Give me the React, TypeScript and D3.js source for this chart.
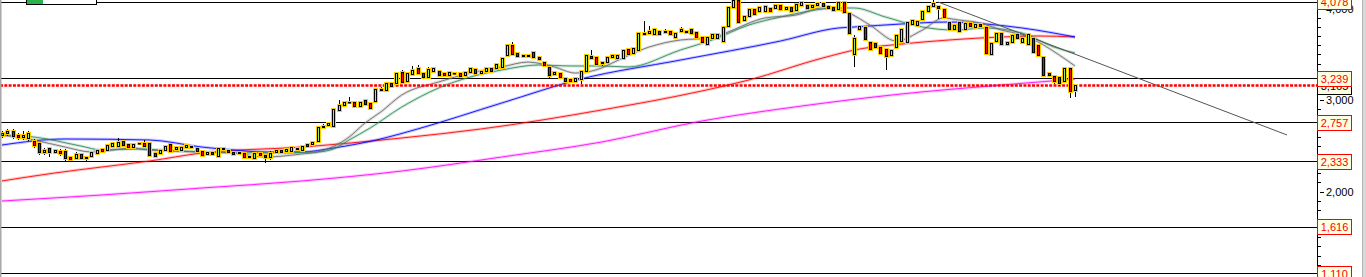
import React, { useEffect, useRef } from 'react';
import * as d3 from 'd3';

// ---- candle data ----
const opens = [2608,2629,2662,2618,2586,2575,2553,2531,2422,2476,2422,2444,2444,2378,2356,2411,2356,2378,2411,2465,2444,2487,2487,2553,2520,2476,2520,2531,2531,2422,2411,2444,2520,2454,2444,2476,2498,2476,2444,2400,2433,2378,2476,2454,2433,2411,2422,2389,2356,2422,2400,2367,2422,2454,2433,2433,2454,2444,2520,2509,2542,2695,2717,2706,2881,2935,2979,2979,2924,3001,2968,2979,3099,3099,3187,3176,3307,3198,3274,3351,3296,3241,3307,3318,3296,3263,3296,3296,3263,3296,3340,3285,3307,3351,3340,3351,3482,3602,3515,3493,3471,3526,3471,3416,3362,3274,3296,3241,3230,3198,3220,3307,3482,3471,3394,3405,3460,3449,3449,3558,3504,3537,3733,3722,3711,3755,3733,3755,3679,3744,3755,3777,3744,3690,3602,3668,3668,3635,3799,4007,4090,3864,3908,3996,3963,3963,4007,3996,4039,3985,4017,3974,4028,4039,4007,4028,4061,4028,4017,3985,4072,3952,3493,3766,3799,3635,3624,3580,3558,3482,3569,3635,3624,3821,3810,3875,3963,4017,4028,3996,3854,3766,3854,3766,3843,3788,3832,3799,3493,3635,3733,3602,3624,3722,3624,3602,3679,3602,3471,3296,3263,3252,3198,3351,3099];
const highs = [2662,2684,2684,2640,2662,2662,2575,2542,2476,2487,2465,2465,2465,2389,2433,2422,2389,2444,2465,2476,2520,2542,2586,2564,2531,2531,2542,2564,2542,2433,2465,2509,2531,2498,2498,2520,2509,2487,2454,2444,2444,2487,2487,2465,2444,2444,2433,2400,2433,2433,2411,2444,2465,2465,2476,2498,2487,2509,2531,2553,2717,2739,2760,2914,3001,2990,3034,2990,2990,3012,2979,3132,3143,3198,3198,3307,3329,3307,3373,3384,3307,3362,3362,3329,3307,3318,3307,3307,3318,3362,3351,3329,3362,3362,3405,3471,3613,3635,3526,3504,3504,3537,3482,3427,3373,3318,3307,3252,3241,3252,3329,3504,3548,3482,3427,3482,3504,3504,3558,3569,3580,3744,3864,3810,3788,3766,3777,3766,3744,3799,3766,3788,3755,3701,3701,3733,3733,3810,4028,4110,4110,3930,4007,4007,4028,4039,4017,4050,4050,4028,4028,4061,4083,4050,4050,4072,4072,4039,4028,4083,4083,3963,3711,3821,3810,3646,3635,3591,3569,3558,3722,3788,3864,3886,3875,3985,4039,4094,4039,4007,3864,3832,3864,3854,3854,3843,3843,3810,3635,3744,3744,3646,3722,3733,3690,3733,3690,3613,3482,3307,3274,3263,3362,3362,3176];
const lows = [2586,2608,2575,2564,2564,2553,2476,2400,2400,2378,2411,2389,2334,2323,2345,2345,2334,2367,2400,2422,2433,2476,2476,2487,2465,2465,2509,2476,2378,2367,2400,2433,2422,2444,2433,2465,2465,2422,2378,2389,2389,2367,2444,2411,2389,2400,2356,2356,2345,2378,2312,2345,2411,2411,2422,2422,2444,2433,2476,2498,2531,2684,2706,2695,2870,2924,2957,2914,2914,2935,2892,2968,3088,3088,3132,3165,3176,3187,3263,3274,3230,3230,3296,3252,3252,3252,3274,3241,3252,3285,3274,3274,3296,3296,3329,3340,3471,3482,3460,3460,3460,3449,3427,3362,3241,3263,3230,3187,3187,3187,3176,3296,3438,3373,3373,3394,3449,3438,3438,3482,3493,3526,3701,3711,3701,3701,3722,3701,3668,3733,3722,3711,3668,3613,3591,3657,3657,3624,3788,3996,3832,3854,3897,3919,3952,3952,3952,3985,3974,3974,3952,3963,4017,3985,3996,4017,4007,3985,3963,3974,3941,3711,3362,3755,3646,3537,3558,3493,3329,3471,3558,3624,3613,3810,3799,3864,3952,4007,3886,3886,3755,3755,3733,3755,3788,3777,3788,3493,3482,3624,3591,3591,3613,3657,3613,3591,3504,3471,3252,3252,3176,3154,3187,3023,3034];
const closes = [2640,2662,2597,2586,2618,2640,2498,2422,2454,2422,2454,2411,2356,2345,2411,2356,2378,2433,2454,2433,2509,2531,2542,2498,2476,2520,2531,2487,2389,2378,2454,2498,2433,2487,2487,2509,2476,2433,2389,2433,2400,2476,2454,2422,2400,2433,2367,2367,2422,2389,2367,2422,2454,2422,2465,2487,2476,2498,2487,2542,2706,2717,2749,2903,2946,2979,2968,2924,2979,2946,2903,3121,3121,3187,3143,3296,3187,3296,3329,3285,3241,3340,3351,3263,3263,3307,3285,3252,3307,3351,3285,3318,3351,3307,3394,3460,3602,3493,3471,3471,3493,3460,3438,3373,3263,3307,3241,3198,3198,3241,3318,3493,3449,3384,3416,3471,3493,3493,3548,3493,3569,3733,3711,3755,3777,3711,3755,3711,3733,3777,3733,3722,3679,3624,3690,3722,3722,3799,4017,4090,3843,3919,3996,3930,4017,4028,3963,4039,3985,4017,3963,4050,4072,3996,4039,4061,4017,3996,3974,4072,3952,3722,3679,3810,3657,3548,3569,3504,3471,3548,3711,3777,3854,3875,3864,3974,4028,4061,3996,3897,3766,3821,3744,3843,3799,3832,3799,3504,3624,3733,3602,3635,3711,3668,3679,3722,3515,3482,3263,3263,3198,3176,3351,3088,3165];

// ---- horizontal levels / price axis ----
const levels = [4078, 3239, 2757, 2333, 1616, 1110];
const levelLabels = ['4,078', '3,239', '2,757', '2,333', '1,616', '1,110'];
const lastPrice = 3165;
const lastPriceLabel = '3,165';
const majorTicks = [2000, 3000, 4000];
const majorTickLabels = ['2,000', '3,000', '4,000'];

// ---- moving averages (candle index, value) ----
const greyIdx = [0,6,12,17,25,28,38,44,50,57,60,66,69,72,76,83,89,95,100,105,109,114,116,123,129,135,138,145,151,156,161,165,170,175,179,182,186,190,194,197,201,204];
const greyVal = [2618,2564,2487,2433,2476,2454,2433,2422,2378,2411,2433,2597,2749,2870,3056,3198,3296,3362,3416,3362,3296,3351,3405,3580,3657,3679,3744,3897,3930,4007,3952,3821,3646,3766,3897,3875,3843,3766,3711,3635,3493,3373];
const greenIdx = [0,6,15,19,25,38,50,60,63,66,70,76,83,89,95,102,108,114,119,129,135,142,148,159,162,168,175,181,187,194,200,204];
const greenVal = [2618,2597,2498,2454,2465,2433,2422,2433,2465,2564,2695,2924,3132,3252,3329,3384,3373,3373,3362,3548,3657,3821,3908,4007,4007,3908,3799,3766,3788,3733,3580,3515];
const blueIdx = [0,12,28,38,44,50,57,63,72,79,95,110,129,148,159,162,171,180,187,194,204];
const blueVal = [2509,2575,2564,2487,2454,2433,2433,2476,2575,2684,2968,3230,3438,3646,3788,3799,3832,3854,3832,3788,3690];
const redIdx = [0,10,19,28,38,57,76,91,114,133,142,156,163,171,180,190,197,204];
const redVal = [2116,2203,2269,2334,2422,2487,2586,2684,2892,3099,3220,3460,3558,3613,3657,3690,3701,3690];
const magentaIdx = [0,19,38,57,76,95,114,133,152,171,190,204];
const magentaVal = [1897,1963,2039,2116,2225,2378,2542,2771,2935,3067,3165,3230];

// ---- trend line (candle index, value) ----
const trendIdx = [178, 244.3];
const trendVal = [4072, 2619];

export default function App() {
  const ref = useRef<SVGSVGElement>(null);

  useEffect(() => {
    const W = 1366, H = 277, axisX = 1317;
    const svg = d3.select(ref.current);
    svg.selectAll('*').remove();

    const x = d3.scaleLinear().domain([0, opens.length - 1]).range([2, 1075]);
    const y = d3.scaleLinear().domain([1110, 4078]).range([273, 1.5]);
    const font = "'Liberation Sans', Arial, sans-serif";

    svg.append('rect').attr('width', W).attr('height', H).attr('fill', '#fff');

    const clip = svg.append('defs').append('clipPath').attr('id', 'plotclip');
    clip.append('rect').attr('x', 0).attr('y', 0).attr('width', axisX).attr('height', H);
    const plot = svg.append('g').attr('clip-path', 'url(#plotclip)');

    // level lines
    levels.forEach((v) => {
      const yy = Math.round(y(v)) + 0.5;
      plot.append('line').attr('x1', 0).attr('x2', axisX).attr('y1', yy).attr('y2', yy)
        .attr('stroke', '#000').attr('stroke-width', 1);
    });

    // moving averages
    const mas: [number[], number[], string][] = [
      [magentaIdx, magentaVal, '#ff00ff'],
      [redIdx, redVal, '#ff0000'],
      [blueIdx, blueVal, '#0000ff'],
      [greenIdx, greenVal, '#2e8b57'],
      [greyIdx, greyVal, '#6a6a6a'],
    ];
    const line = d3.line<[number, number]>()
      .x((d) => x(d[0])).y((d) => y(d[1])).curve(d3.curveMonotoneX);
    mas.forEach(([idx, val, col]) => {
      const pts = idx.map((d, i) => [d, val[i]] as [number, number]);
      plot.append('path').attr('d', line(pts)).attr('fill', 'none')
        .attr('stroke', col).attr('stroke-width', 3).attr('stroke-opacity', 0.22);
      plot.append('path').attr('d', line(pts)).attr('fill', 'none')
        .attr('stroke', col).attr('stroke-width', 1).attr('stroke-opacity', 0.85);
    });

    // trend line
    plot.append('line')
      .attr('x1', x(trendIdx[0])).attr('y1', y(trendVal[0]))
      .attr('x2', x(trendIdx[1])).attr('y2', y(trendVal[1]))
      .attr('stroke', '#555').attr('stroke-width', 1);

    // last price dotted line
    const ly = Math.round(y(lastPrice)) + 0.5;
    plot.append('line').attr('x1', 0).attr('x2', axisX).attr('y1', ly).attr('y2', ly)
      .attr('stroke', '#ff0000').attr('stroke-width', 2.5).attr('stroke-dasharray', '3 1.3');

    // candles
    const cg = plot.append('g');
    opens.forEach((o, i) => {
      const c = closes[i];
      const cx = Math.round(x(i));
      cg.append('line').attr('x1', cx + 0.5).attr('x2', cx + 0.5)
        .attr('y1', y(highs[i])).attr('y2', y(lows[i]))
        .attr('stroke', '#000').attr('stroke-width', 1);
    });
    opens.forEach((o, i) => {
      const c = closes[i];
      const cx = Math.round(x(i));
      const top = Math.round(y(Math.max(o, c)));
      const bot = Math.round(y(Math.min(o, c)));
      const h = Math.max(bot - top, 1);
      cg.append('rect').attr('x', cx - 2).attr('y', top - 1).attr('width', 5).attr('height', h + 2)
        .attr('fill', '#ffcc00');
      cg.append('rect').attr('x', cx - 0.5).attr('y', top + 0.5).attr('width', 2).attr('height', Math.max(h - 1, 0.5))
        .attr('fill', c < o ? '#ff0000' : '#90ee90').attr('stroke', '#000').attr('stroke-width', 1);
    });

    // left border
    svg.append('rect').attr('x', 0).attr('y', 0).attr('width', 1.5).attr('height', H).attr('fill', '#a8a8a8');

    // legend box (cut at top)
    svg.append('rect').attr('x', 26.5).attr('y', -10).attr('width', 70).attr('height', 14.5)
      .attr('fill', '#fff').attr('stroke', '#000').attr('stroke-width', 1);
    svg.append('rect').attr('x', 27).attr('y', 0).attr('width', 16).attr('height', 4).attr('fill', '#2bb24c');

    // axis
    svg.append('line').attr('x1', axisX + 0.5).attr('x2', axisX + 0.5).attr('y1', 0).attr('y2', H)
      .attr('stroke', '#000').attr('stroke-width', 1);
    d3.range(1100, 4100, 100).forEach((v) => {
      const yy = Math.round(y(v)) + 0.5;
      const major = v % 1000 === 0;
      svg.append('line').attr('x1', major ? axisX + 3 : axisX).attr('x2', major ? axisX + 7 : axisX + 4)
        .attr('y1', yy).attr('y2', yy).attr('stroke', '#000').attr('stroke-width', 1);
    });
    majorTicks.forEach((v, i) => {
      svg.append('text').attr('x', axisX + 9).attr('y', y(v) + 4)
        .attr('font-family', font).attr('font-size', 11).attr('fill', '#000')
        .text(majorTickLabels[i]);
    });

    // last price label (beneath level labels)
    const boxW = 34, boxH = 15;
    const lp = y(lastPrice) + 1;
    svg.append('rect').attr('x', axisX + 0.5).attr('y', Math.round(lp - boxH / 2) + 0.5).attr('width', boxW).attr('height', boxH)
      .attr('fill', '#ffffe1').attr('stroke', '#000').attr('stroke-width', 1);
    svg.append('text').attr('x', axisX + 0.5 + boxW / 2).attr('y', lp + 4).attr('text-anchor', 'middle')
      .attr('font-family', font).attr('font-size', 11).attr('fill', '#000').text(lastPriceLabel);

    levels.forEach((v, i) => {
      const yy = y(v);
      svg.append('rect').attr('x', axisX + 0.5).attr('y', Math.round(yy - boxH / 2) + 0.5).attr('width', boxW).attr('height', boxH)
        .attr('fill', '#ffffe1').attr('stroke', '#ff0000').attr('stroke-width', 1);
      svg.append('text').attr('x', axisX + 0.5 + boxW / 2).attr('y', yy + 4.5).attr('text-anchor', 'middle')
        .attr('font-family', font).attr('font-size', 11).attr('fill', '#ff0000').text(levelLabels[i]);
    });

    // right frame
    svg.append('rect').attr('x', 1362).attr('y', 0).attr('width', 4).attr('height', H).attr('fill', '#d8d8d8');
    svg.append('line').attr('x1', 1362.5).attr('x2', 1362.5).attr('y1', 0).attr('y2', H).attr('stroke', '#b4b4b4');
  }, []);

  return (
    <div style={{ position: 'absolute', left: 0, top: 0, background: '#fff' }}>
      <svg ref={ref} width={1366} height={277} style={{ display: 'block' }} />
    </div>
  );
}
